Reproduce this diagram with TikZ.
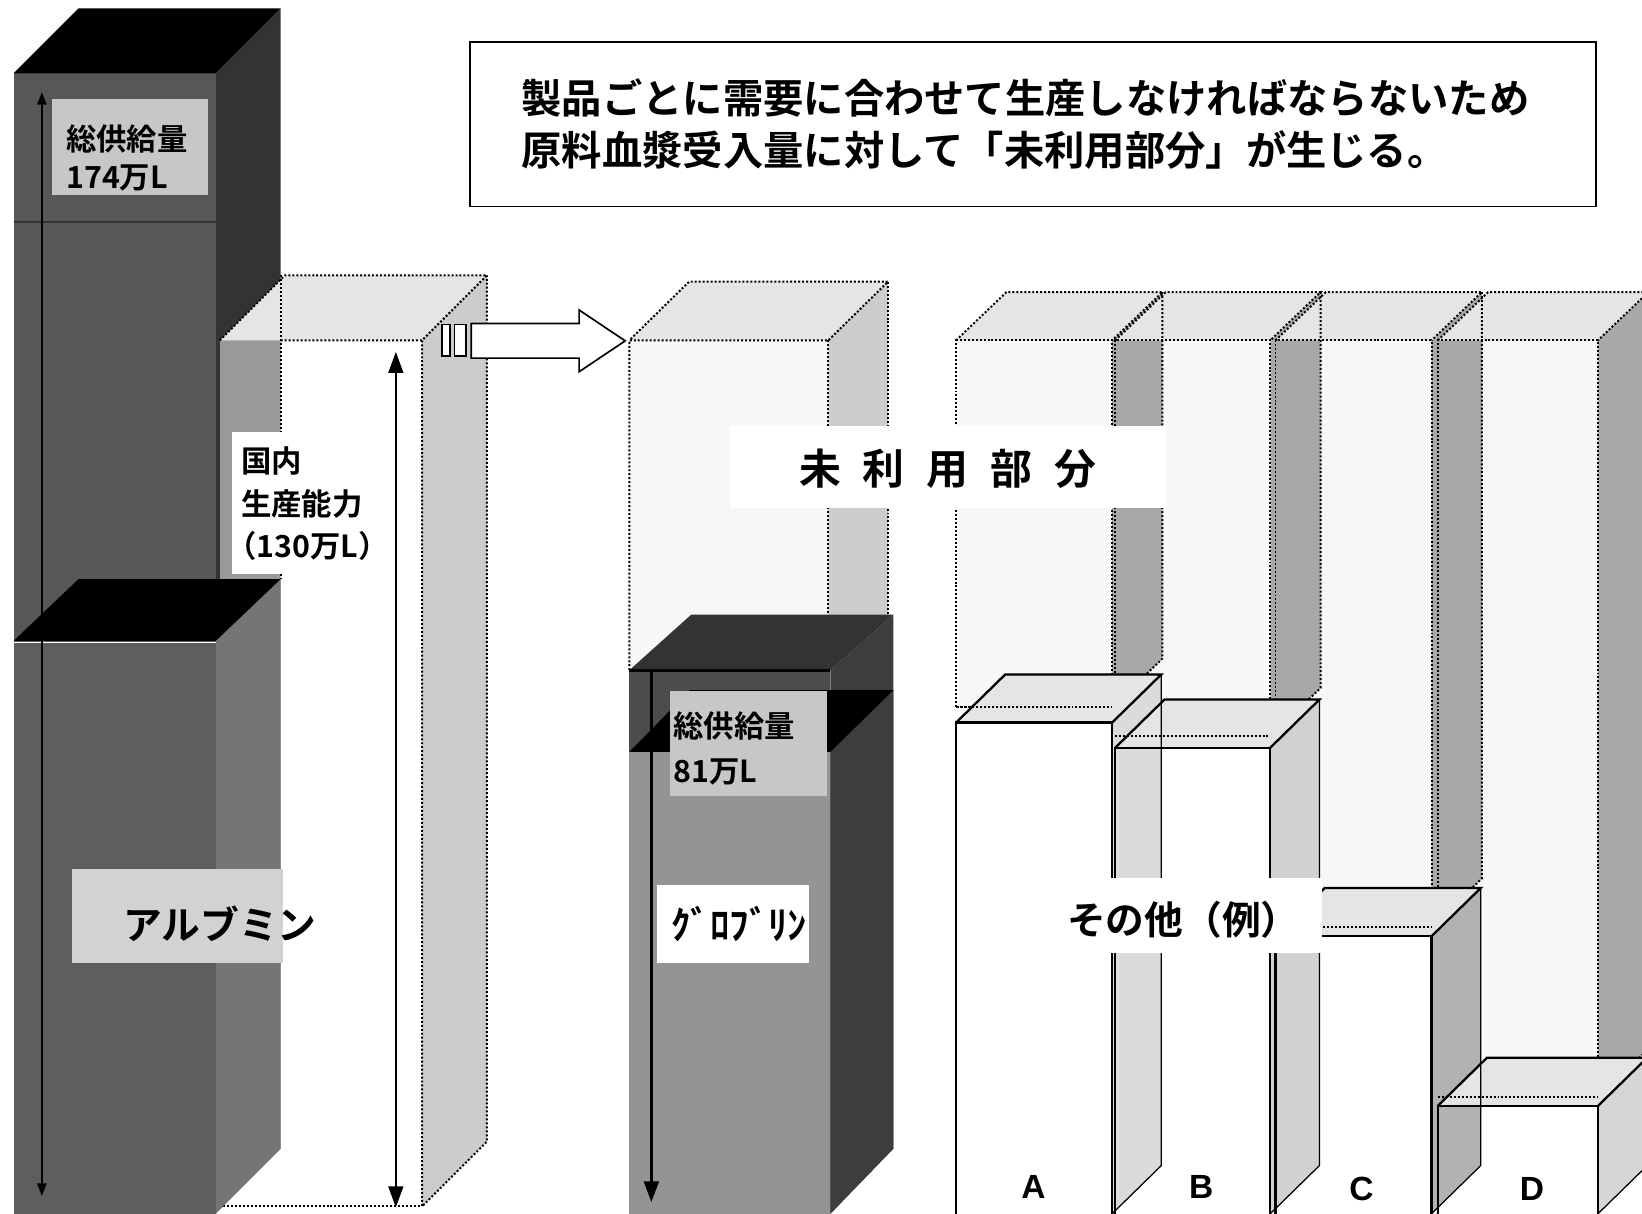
\documentclass[tikz,border=0pt]{standalone}
\usepackage{fontspec}
\newfontfamily\jpb{Noto Sans CJK JP Bold}
\newfontfamily\lsb{Liberation Sans Bold}
\usetikzlibrary{arrows.meta}
\newcommand\fzTitle{\fontsize{38.5}{50}\selectfont}
\newcommand\fzLab{\fontsize{29}{36}\selectfont}
\newcommand\fzBig{\fontsize{37}{40}\selectfont}
\newcommand\fzUnu{\fontsize{40}{44}\selectfont}
\newcommand\fzABC{\fontsize{32}{34}\selectfont}
\definecolor{albfront}{gray}{0.34}
\definecolor{albside}{gray}{0.20}
\definecolor{lofront}{gray}{0.37}
\definecolor{loside}{gray}{0.46}
\definecolor{captop}{gray}{0.90}
\definecolor{capside}{gray}{0.80}
\definecolor{capsideO}{gray}{0.66}
\definecolor{capfront}{gray}{0.97}
\definecolor{gttop}{gray}{0.20}
\definecolor{gtfront}{gray}{0.30}
\definecolor{gside}{gray}{0.24}
\definecolor{gfront}{gray}{0.58}
\definecolor{labgray}{gray}{0.78}
\definecolor{boxtop}{gray}{0.90}
\begin{document}
\begin{tikzpicture}[x=1pt,y=-1pt,
  dotl/.style={draw=black, line width=1.9pt, dash pattern=on 1.9pt off 1.9pt},
  solidl/.style={draw=black, line width=2.2pt, line join=miter},
  jt/.style={font=\jpb\fzLab, inner sep=0pt},
  bigt/.style={font=\jpb\fzBig, inner sep=0pt}]
\useasboundingbox (0,0) rectangle (1568,1159);
\clip (0,0) rectangle (1568,1159);
\fill[white] (0,0) rectangle (1568,1159);

% ===== Albumin: total supply box
\fill[albside] (206,70) -- (268,8) -- (268,1097) -- (206,1159) -- cycle;
\fill[albfront] (13,70) rectangle (206,1159);
\fill[black] (13,70) -- (206,70) -- (268,8) -- (75,8) -- cycle;
\draw[gray!40!black, line width=1pt] (13,212) -- (206,212);

% ===== Albumin: domestic capacity box
\fill[captop] (210,325) -- (403,325) -- (465,263) -- (272,263) -- cycle;
\fill[capside] (403,325) -- (465,263) -- (465,1090) -- (403,1152) -- cycle;
\fill[white, opacity=.5] (210,325) rectangle (268,1152);
\fill[white] (268,325) rectangle (403,1152);
\draw[dotl] (268,325) -- (403,325) -- (465,263) -- (272,263) -- (210,325);
\draw[dotl] (403,325) -- (403,1152) -- (465,1090) -- (465,263);
\draw[dotl] (213,1152) -- (403,1152);
\draw[dotl] (268,263) -- (268,553);

% ===== Albumin: lower box
\fill[loside] (206,612) -- (268,553) -- (268,1097) -- (206,1159) -- cycle;
\fill[lofront] (13,612) rectangle (206,1159);
\fill[black] (13,612) -- (206,612) -- (268,553) -- (75,553) -- cycle;
\draw[white, line width=1.2pt] (13,613.5) -- (206,613.5);

% labels albumin
\fill[labgray] (50,95) rectangle (199,186);
\node[jt, anchor=west] (t174a) at (63,133) {総供給量};
\node[jt, anchor=west] (t174b) at (63,170) {174万L};
\fill[labgray!80!white] (69,830) rectangle (270,920);
\node[bigt] (talb) at (210,882) {アルブミン};
\fill[white] (222,413) rectangle (366,548);
\node[jt, anchor=west] (tcap1) at (230,440) {国内};
\node[jt, anchor=west] (tcap2) at (230,481) {生産能力};
\node[jt, anchor=west] (tcap3) at (216,521) {（130万L）};

% arrows albumin
\coordinate (a1top) at (40,88);
\coordinate (a1bot) at (40,1142);
\draw[line width=1.6pt, {Triangle[length=12pt,width=9pt]}-{Triangle[length=12pt,width=9pt]}] (a1top) -- (a1bot);
\coordinate (c1top) at (378,336);
\coordinate (c1bot) at (378,1153);
\draw[line width=2.2pt, {Triangle[length=20pt,width=14pt]}-{Triangle[length=20pt,width=14pt]}] (c1top) -- (c1bot);

% block arrow
\draw[line width=1.6pt, fill=white] (450,309) -- (553,309) -- (553,296) -- (597,325.5) -- (553,355) -- (553,342) -- (450,342) -- cycle;
\draw[line width=1.6pt, fill=white] (422,310) rectangle (430,340);
\draw[line width=1.6pt, fill=white] (434,310) rectangle (445,340);

% ===== Globulin capacity box
\fill[captop] (601,325) -- (791,325) -- (848,269) -- (658,269) -- cycle;
\fill[capside] (791,325) -- (848,269) -- (848,590) -- (791,640) -- cycle;
\fill[capfront] (601,325) rectangle (791,640);
\draw[dotl] (601,640) -- (601,325) -- (791,325) -- (848,269) -- (658,269) -- (601,325);
\draw[dotl] (791,325) -- (791,640);
\draw[dotl] (848,269) -- (848,590);

% Globulin total box
\fill[gside] (793,640) -- (853,587) -- (853,1097) -- (793,1159) -- cycle;
\fill[gtfront] (601,640) rectangle (793,1159);
\fill[gttop] (601,640) -- (793,640) -- (853,587) -- (660,587) -- cycle;
% Globulin box
\fill[gside] (793,718) -- (853,659) -- (853,1097) -- (793,1159) -- cycle;
\fill[gfront] (601,718) rectangle (793,1159);
\fill[black] (601,718) -- (793,718) -- (853,659) -- (659,659) -- cycle;
\draw[black, line width=3pt] (601,640) -- (793,640);
\fill[labgray] (640,660) rectangle (790,760);
\node[jt, anchor=west] (t81a) at (643,693) {総供給量};
\node[jt, anchor=west] (t81b) at (643,737) {81万L};
\fill[white] (627,845) rectangle (773,920);
\node[bigt] (tglo) at (706,882) {ｸﾞﾛﾌﾞﾘﾝ};
\coordinate (gtop) at (622,640);
\coordinate (gbot) at (622,1148);
\draw[line width=3pt, -{Triangle[length=20pt,width=14pt]}] (gtop) -- (gbot);

% ===== Others: capacity boxes
\foreach \xl/\xr/\cb in {913/1062/675, 1065/1213/703, 1218/1367/885, 1373/1526/1048} {
  \fill[capfront] (\xl,325) rectangle (\xr,\cb);
}
\foreach \xl/\xr/\cb in {913/1062/675, 1065/1213/703, 1218/1367/885, 1373/1526/1048} {
  \fill[capsideO] (\xr,325) -- (\xr+48,279) -- (\xr+48,\cb-46) -- (\xr,\cb) -- cycle;
  \fill[captop] (\xl,325) -- (\xr,325) -- (\xr+48,279) -- (\xl+48,279) -- cycle;
}
\foreach \xl/\xr/\cb in {913/1062/675, 1065/1213/703, 1218/1367/885, 1373/1526/1048} {
  \draw[dotl] (\xl,\cb) -- (\xl,325) -- (\xr,325) -- (\xr,\cb) -- cycle;
  \draw[dotl] (\xl,325) -- (\xl+48,279) -- (\xr+48,279) -- (\xr,325);
  \draw[dotl] (\xr+48,279) -- (\xr+48,\cb-46) -- (\xr,\cb);
}

% ===== Others: product boxes
\foreach \xl/\xr/\bt in {913/1062/690, 1065/1213/714, 1218/1367/894, 1373/1526/1056} {
  \fill[white] (\xl,\bt) rectangle (\xr,1165);
}
\foreach \xr/\bt/\g in {1062/690/0.86, 1213/714/0.82, 1367/894/0.70, 1526/1056/0.84} {
  \definecolor{sidec}{gray}{\g}
  \fill[sidec] (\xr,\bt) -- (\xr+47,\bt-46) -- (\xr+47,1113) -- (\xr,1159) -- cycle;
}
\foreach \xl/\xr/\bt in {913/1062/690, 1065/1213/714, 1218/1367/894, 1373/1526/1056} {
  \fill[boxtop] (\xl,\bt) -- (\xr,\bt) -- (\xr+47,\bt-46) -- (\xl+47,\bt-46) -- cycle;
}
\foreach \xl/\xr/\bt/\cb in {913/1062/690/675, 1065/1213/714/703, 1218/1367/894/885, 1373/1526/1056/1048} {
  \draw[dotl] (\xl,\cb) -- (\xr,\cb);
  \draw[draw=black, line width=1.2pt] (\xr+47,\bt-46) -- (\xr+47,1113) -- (\xr,1159);
  \draw[solidl] (\xl,1165) -- (\xl,\bt) -- (\xr,\bt) -- (\xr,1165);
  \draw[solidl] (\xl,\bt) -- (\xl+47,\bt-46) -- (\xr+47,\bt-46) -- (\xr,\bt);
}
\node[font=\lsb\fzABC] (labA) at (987,1133) {A};
\node[font=\lsb\fzABC] (labB) at (1147,1133) {B};
\node[font=\lsb\fzABC] (labC) at (1300,1135) {C};
\node[font=\lsb\fzABC] (labD) at (1463,1135) {D};

% labels over the chart
\fill[white] (697,407) rectangle (1113,485);
\node[font=\jpb\fzUnu, inner sep=0pt] (tunused) at (905,448) {未\hspace{21pt}利\hspace{21pt}用\hspace{21pt}部\hspace{21pt}分};
\fill[white] (1000,838) rectangle (1262,910);
\node[bigt] (tother) at (1130,878) {その他（例）};

% ===== Title box
\node[draw=black, line width=1.5pt, minimum width=1075pt, minimum height=157pt,
      text width=977pt, align=left, inner sep=0pt, font=\jpb\fzTitle] (title) at (986.5,118.5)
  {製品ごとに需要に合わせて生産しなければならないため\\原料血漿受入量に対して「未利用部分」が生じる。};
\end{tikzpicture}
\end{document}
